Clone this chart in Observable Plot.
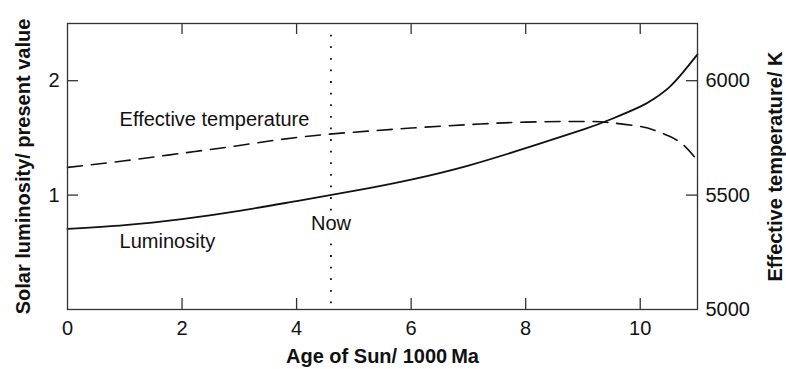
<!DOCTYPE html>
<html>
<head>
<meta charset="utf-8">
<script src="https://cdn.jsdelivr.net/npm/d3@7"></script>
<script src="https://cdn.jsdelivr.net/npm/@observablehq/plot@0.6"></script>
<style>
  html, body { margin: 0; padding: 0; background: white; }
  #chart { width: 786px; height: 369px; }
</style>
</head>
<body>
<div id="chart"></div>
<script>
// Age of the Sun (1000 Ma)
const age = [0, 1, 2, 3, 4, 5, 6, 7, 8, 9, 9.5, 10, 10.25, 10.5, 10.75, 11];
// Luminosity relative to present value
const luminosity = [0.705, 0.737, 0.79, 0.862, 0.948, 1.036, 1.135, 1.258, 1.41, 1.572, 1.665, 1.773, 1.845, 1.94, 2.075, 2.23];
// Effective temperature (K)
const temperature = [5621, 5650, 5683, 5717, 5752, 5775, 5793, 5808, 5819, 5822, 5816, 5800, 5783, 5758, 5720, 5651];

const xTicks = [0, 2, 4, 6, 8, 10];
const xInnerTicks = [2, 4, 6, 8, 10];
const lumTicks = [1, 2];
const tempTicks = [5000, 5500, 6000];
const tempInnerTicks = [5500, 6000];
const nowAge = [4.6];

const xTitle = "Age of Sun/ 1000\u2009Ma";
const yTitle = "Solar luminosity/ present value";
const y2Title = "Effective temperature/ K";

// temperature mapped onto the luminosity axis: 5000 K -> 0, 6000 K -> 2
const tempToY = t => (t - 5000) / 500;

const lumData = age.map((a, i) => ({age: a, value: luminosity[i]}));
const tempData = age.map((a, i) => ({age: a, value: temperature[i]}));

const curveLabels = [
  {age: 0.91, value: 1.607, text: "Effective temperature"},
  {age: 0.91, value: 0.54, text: "Luminosity"}
];
const nowLabel = [{age: 4.6, value: 0.694, text: "Now"}];

const W = 786, H = 369, mL = 67, mR = 89, mT = 23, mB = 60;
const plotW = W - mL - mR, plotH = H - mT - mB, tickLen = 11;
const ink = "#111";

const chart = Plot.plot({
  width: W, height: H,
  marginLeft: mL, marginRight: mR, marginTop: mT, marginBottom: mB,
  x: {domain: [0, 11], axis: null},
  y: {domain: [0, 2.5], axis: null},
  style: {fontFamily: "'Liberation Sans', Arial, sans-serif", fontSize: "20px", color: ink, background: "white"},
  marks: [
    Plot.ruleX(nowAge, {x: d => d, y1: 0.05, y2: 2.48, stroke: ink, strokeWidth: 1.8, strokeDasharray: "1.8,9.8"}),
    Plot.line(tempData, {x: "age", y: d => tempToY(d.value), curve: "natural", stroke: ink, strokeWidth: 1.6, strokeDasharray: "15,9"}),
    Plot.line(lumData, {x: "age", y: "value", curve: "natural", stroke: ink, strokeWidth: 1.8}),
    Plot.text(curveLabels, {x: "age", y: "value", text: "text", textAnchor: "start", lineAnchor: "bottom", fill: ink, fontSize: 20}),
    Plot.text(nowLabel, {x: "age", y: "value", text: "text", textAnchor: "middle", lineAnchor: "bottom", fill: ink, stroke: "white", strokeWidth: 10, fontSize: 20}),
    Plot.frame({stroke: "#333", strokeWidth: 1.3}),
    Plot.tickX(xInnerTicks, {x: d => d, insetTop: plotH - tickLen, stroke: "#333", strokeWidth: 1.3}),
    Plot.tickX(xInnerTicks, {x: d => d, insetBottom: plotH - tickLen, stroke: "#333", strokeWidth: 1.3}),
    Plot.tickY(lumTicks, {y: d => d, insetRight: plotW - tickLen, stroke: "#333", strokeWidth: 1.3}),
    Plot.tickY(tempInnerTicks, {y: d => tempToY(d), insetLeft: plotW - tickLen, stroke: "#333", strokeWidth: 1.3}),
    Plot.text(xTicks, {x: d => d, text: d => String(d), frameAnchor: "bottom", lineAnchor: "top", dy: 11, fill: ink}),
    Plot.text(lumTicks, {y: d => d, text: d => String(d), frameAnchor: "left", textAnchor: "end", lineAnchor: "middle", dx: -8, fill: ink}),
    Plot.text(tempTicks, {y: d => tempToY(d), text: d => String(d), frameAnchor: "right", textAnchor: "start", lineAnchor: "middle", dx: 8, fill: ink}),
    Plot.text([xTitle], {text: d => d, frameAnchor: "bottom", textAnchor: "middle", lineAnchor: "bottom", dy: 53, fontWeight: "bold", fontSize: 20, fill: ink}),
    Plot.text([yTitle], {text: d => d, frameAnchor: "left", textAnchor: "middle", lineAnchor: "middle", rotate: -90, dx: -44, fontWeight: "bold", fontSize: 20, fill: ink}),
    Plot.text([y2Title], {text: d => d, frameAnchor: "right", textAnchor: "middle", lineAnchor: "middle", rotate: -90, dx: 78, fontWeight: "bold", fontSize: 20, fill: ink})
  ]
});
document.getElementById("chart").appendChild(chart);
</script>
</body>
</html>
